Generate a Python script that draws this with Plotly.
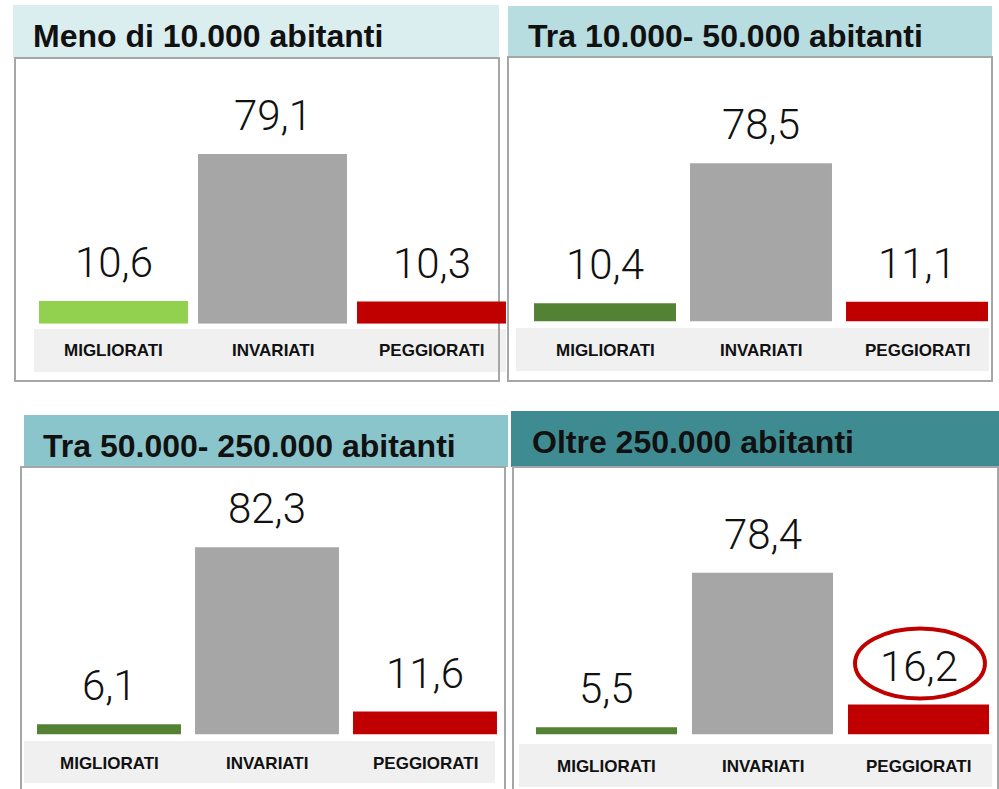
import plotly.graph_objects as go

CATEGORIES = ["MIGLIORATI", "INVARIATI", "PEGGIORATI"]
PANEL_TITLES = [
    "Meno di 10.000 abitanti",
    "Tra 10.000- 50.000 abitanti",
    "Tra 50.000- 250.000 abitanti",
    "Oltre 250.000 abitanti",
]
VALUES_UNDER_10K = [10.6, 79.1, 10.3]
VALUES_10K_50K = [10.4, 78.5, 11.1]
VALUES_50K_250K = [6.1, 82.3, 11.6]
VALUES_OVER_250K = [5.5, 78.4, 16.2]
PANEL_VALUES = [VALUES_UNDER_10K, VALUES_10K_50K, VALUES_50K_250K, VALUES_OVER_250K]

W, H = 999, 789

COLORS = {
    "green_light": "#92d050",
    "green": "#548235",
    "gray": "#a6a6a6",
    "red": "#c00000",
    "strip": "#f0f0f0",
    "border": "#a6a6a6",
    "text": "#111111",
}

# pixel geometry of each panel
PANELS = [
    dict(xdom=(34, 511), base=323.7, k=2.146, ymin=0.0, bw=0.937,
         band=(13, 5, 499, 58), band_color="#daeef0", title_x=31, title_y=36,
         box=(15, 58, 499, 381), strip=(34, 329, 506, 372), label_y=351,
         first="green_light"),
    dict(xdom=(527, 995), base=321.3, k=2.056, ymin=1.64, bw=0.910,
         band=(508, 6, 992, 57), band_color="#b7dde1", title_x=526, title_y=36,
         box=(508, 57, 992, 381), strip=(516, 328, 989, 371), label_y=350,
         first="green"),
    dict(xdom=(30, 504), base=734.3, k=2.323, ymin=1.8, bw=0.911,
         band=(24, 415, 508, 467), band_color="#8bc5cc", title_x=41, title_y=446,
         box=(21, 467, 505, 800), strip=(24, 741, 495, 783), label_y=763,
         first="green"),
    dict(xdom=(528.5, 996.5), base=734.3, k=2.121, ymin=2.2, bw=0.904,
         band=(511, 411, 999, 467), band_color="#3e8c91", title_x=530, title_y=442,
         box=(513, 467, 998, 800), strip=(519, 744, 992, 787), label_y=766,
         first="green"),
]


def px_x(x):
    return x / W


def px_y(y):
    return 1 - y / H


def fmt(v):
    return f"{v:.1f}".replace(".", ",")


fig = go.Figure()
shapes = []
annotations = []
span = 200

for i, (panel, values, title) in enumerate(zip(PANELS, PANEL_VALUES, PANEL_TITLES), start=1):
    suffix = "" if i == 1 else str(i)
    xa, ya = f"x{suffix}", f"y{suffix}"

    fig.add_trace(
        go.Bar(
            x=CATEGORIES,
            y=values,
            xaxis=xa,
            yaxis=ya,
            width=panel["bw"],
            marker={
                "color": [COLORS[panel["first"]], COLORS["gray"], COLORS["red"]],
                "line": {"width": 0},
            },
            showlegend=False,
            hoverinfo="skip",
        )
    )

    fig.update_layout(
        {
            f"xaxis{suffix}": dict(
                domain=[px_x(panel["xdom"][0]), px_x(panel["xdom"][1])],
                anchor=ya, showticklabels=False, showgrid=False,
                zeroline=False, showline=False, ticks="",
                range=[-0.5, 2.5],
            ),
            f"yaxis{suffix}": dict(
                domain=[px_y(panel["base"]), px_y(panel["base"] - span)],
                anchor=xa, showticklabels=False, showgrid=False,
                zeroline=False, showline=False, ticks="",
                range=[panel["ymin"], panel["ymin"] + span / panel["k"]],
            ),
        }
    )

    bx0, by0, bx1, by1 = panel["band"]
    shapes.append(dict(type="rect", xref="paper", yref="paper", layer="below",
                       x0=px_x(bx0), x1=px_x(bx1), y0=px_y(by1), y1=px_y(by0),
                       fillcolor=panel["band_color"], line={"width": 0}))
    sx0, sy0, sx1, sy1 = panel["strip"]
    shapes.append(dict(type="rect", xref="paper", yref="paper", layer="below",
                       x0=px_x(sx0), x1=px_x(sx1), y0=px_y(sy1), y1=px_y(sy0),
                       fillcolor=COLORS["strip"], line={"width": 0}))
    ox0, oy0, ox1, oy1 = panel["box"]
    shapes.append(dict(type="rect", xref="paper", yref="paper", layer="below",
                       x0=px_x(ox0), x1=px_x(ox1), y0=px_y(oy1), y1=px_y(oy0),
                       fillcolor="rgba(0,0,0,0)",
                       line={"color": COLORS["border"], "width": 2}))

    annotations.append(dict(
        text=title, xref="paper", yref="paper",
        x=px_x(panel["title_x"]), y=px_y(panel["title_y"]),
        xanchor="left", yanchor="middle", showarrow=False,
        font={"family": "Liberation Sans, Arial, sans-serif", "size": 32,
              "color": COLORS["text"], "weight": "bold"},
    ))

    for cat, v in zip(CATEGORIES, values):
        annotations.append(dict(
            text=fmt(v), xref=xa, yref=ya, x=cat, y=v,
            xanchor="center", yanchor="bottom", yshift=12, showarrow=False,
            font={"family": "Roboto, sans-serif", "size": 42,
                  "color": COLORS["text"], "weight": 300},
        ))
        annotations.append(dict(
            text=cat, xref=xa, yref="paper", x=cat, y=px_y(panel["label_y"]),
            xanchor="center", yanchor="middle", showarrow=False,
            font={"family": "Liberation Sans, Arial, sans-serif", "size": 17,
                  "color": COLORS["text"], "weight": "bold"},
        ))

# highlight ellipse around the PEGGIORATI value of the last panel
shapes.append(dict(
    type="circle", xref="x4", yref="y4", layer="above",
    x0=1.593, x1=2.426,
    ysizemode="pixel", yanchor=VALUES_OVER_250K[2], y0=6, y1=76,
    fillcolor="rgba(0,0,0,0)", line={"color": COLORS["red"], "width": 4},
))

fig.update_layout(
    width=W,
    height=H,
    margin={"l": 0, "r": 0, "t": 0, "b": 0},
    paper_bgcolor="white",
    plot_bgcolor="rgba(0,0,0,0)",
    shapes=shapes,
    annotations=annotations,
    barmode="group",
)

# the page's default body margin would shift the figure by 8px
fig.write_html(
    "out.html",
    config={"displayModeBar": False},
    post_script="document.body.style.margin='0';",
)
